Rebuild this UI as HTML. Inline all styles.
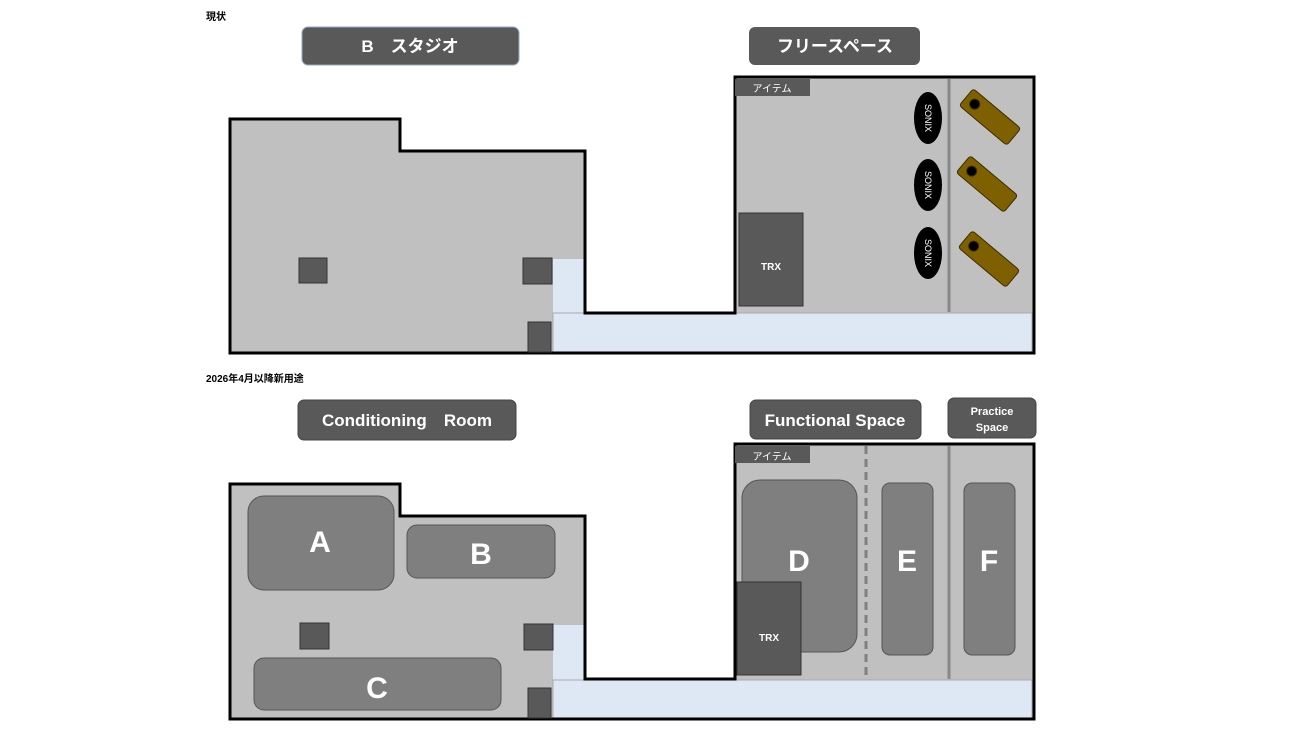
<!DOCTYPE html>
<html><head><meta charset="utf-8"><style>
html,body{margin:0;padding:0;background:#fff;}
svg{display:block;font-family:"Liberation Sans","Noto Sans CJK JP",sans-serif;}
</style></head><body>
<svg width="1300" height="731" viewBox="0 0 1300 731" xmlns="http://www.w3.org/2000/svg">
<!-- TOP -->
<text x="206" y="20" font-size="10" font-weight="bold" fill="#000">現状</text>
<rect x="302" y="27" width="217" height="38" rx="6" fill="#595959" stroke="#8faac8" stroke-width="1"/>
<text x="410" y="52" font-size="17" font-weight="bold" fill="#fff" text-anchor="middle">B　スタジオ</text>
<rect x="749" y="27" width="171" height="38" rx="6" fill="#595959"/>
<text x="835" y="52" font-size="17" font-weight="bold" fill="#fff" text-anchor="middle">フリースペース</text>

<path d="M230 119 H400 V151 H585 V313 H735 V77 H1034 V353 H230 Z" fill="#c0c0c0"/>
<rect x="553" y="259" width="32" height="94" fill="#dde8f4"/>
<rect x="553" y="313" width="479" height="40" fill="#dde8f4" stroke="#aaa" stroke-width="1"/>
<path d="M230 119 H400 V151 H585 V313 H735 V77 H1034 V353 H230 Z" fill="none" stroke="#000" stroke-width="3"/>
<line x1="949" y1="79" x2="949" y2="312" stroke="#888" stroke-width="3"/>
<rect x="299" y="258" width="28" height="25" fill="#595959" stroke="#333" stroke-width="1"/>
<rect x="523" y="258" width="29" height="26" fill="#595959" stroke="#333" stroke-width="1"/>
<rect x="528" y="322" width="23" height="30" fill="#595959" stroke="#333" stroke-width="1"/>
<rect x="735" y="79" width="75" height="17" fill="#595959"/>
<text x="772" y="92" font-size="10" fill="#fff" text-anchor="middle">アイテム</text>
<rect x="739" y="213" width="64" height="93" fill="#595959" stroke="#333" stroke-width="1"/>
<text x="771" y="270" font-size="10" font-weight="bold" fill="#fff" text-anchor="middle">TRX</text>
<g font-size="9" fill="#fff" text-anchor="middle">
<ellipse cx="928" cy="118" rx="14" ry="26" fill="#000"/>
<text transform="translate(928,118) rotate(90)" y="3">SONIX</text>
<ellipse cx="928" cy="185" rx="14" ry="26" fill="#000"/>
<text transform="translate(928,185) rotate(90)" y="3">SONIX</text>
<ellipse cx="928" cy="253" rx="14" ry="26" fill="#000"/>
<text transform="translate(928,253) rotate(90)" y="3">SONIX</text>
</g>
<g fill="#7f6000" stroke="#3a2c00" stroke-width="1">
<g transform="translate(990,117) rotate(40)"><rect x="-31" y="-11" width="62" height="22" rx="3"/><circle cx="-20" cy="0" r="5" fill="#000"/></g>
<g transform="translate(987,184) rotate(40)"><rect x="-31" y="-11" width="62" height="22" rx="3"/><circle cx="-20" cy="0" r="5" fill="#000"/></g>
<g transform="translate(989,259) rotate(40)"><rect x="-31" y="-11" width="62" height="22" rx="3"/><circle cx="-20" cy="0" r="5" fill="#000"/></g>
</g>

<!-- BOTTOM -->
<text x="206" y="382" font-size="10" font-weight="bold" fill="#000">2026年4月以降新用途</text>
<rect x="298" y="400" width="218" height="40" rx="6" fill="#595959" stroke="#444" stroke-width="1"/>
<text x="407" y="426" font-size="17" font-weight="bold" fill="#fff" text-anchor="middle">Conditioning　Room</text>
<rect x="750" y="400" width="171" height="39" rx="6" fill="#595959" stroke="#444" stroke-width="1"/>
<text x="835" y="426" font-size="17" font-weight="bold" fill="#fff" text-anchor="middle">Functional Space</text>
<rect x="948" y="398" width="88" height="40" rx="6" fill="#595959" stroke="#444" stroke-width="1"/>
<text x="992" y="415" font-size="11" font-weight="bold" fill="#fff" text-anchor="middle">Practice</text>
<text x="992" y="431" font-size="11" font-weight="bold" fill="#fff" text-anchor="middle">Space</text>

<path d="M230 484 H400 V516 H585 V679 H735 V444 H1034 V719 H230 Z" fill="#c0c0c0"/>
<rect x="553" y="625" width="32" height="94" fill="#dde8f4"/>
<rect x="553" y="680" width="479" height="39" fill="#dde8f4" stroke="#aaa" stroke-width="1"/>
<path d="M230 484 H400 V516 H585 V679 H735 V444 H1034 V719 H230 Z" fill="none" stroke="#000" stroke-width="3"/>
<line x1="866" y1="446" x2="866" y2="679" stroke="#808080" stroke-width="3" stroke-dasharray="8,5"/>
<line x1="949" y1="446" x2="949" y2="679" stroke="#888" stroke-width="3"/>
<g fill="#7f7f7f" stroke="#555" stroke-width="1">
<rect x="248" y="496" width="146" height="94" rx="16"/>
<rect x="407" y="525" width="148" height="53" rx="10"/>
<rect x="254" y="658" width="247" height="52" rx="10"/>
<rect x="742" y="480" width="115" height="172" rx="18"/>
<rect x="882" y="483" width="51" height="172" rx="8"/>
<rect x="964" y="483" width="51" height="172" rx="8"/>
</g>
<rect x="300" y="623" width="29" height="26" fill="#595959" stroke="#333" stroke-width="1"/>
<rect x="524" y="624" width="29" height="26" fill="#595959" stroke="#333" stroke-width="1"/>
<rect x="528" y="688" width="23" height="30" fill="#595959" stroke="#333" stroke-width="1"/>
<rect x="735" y="446" width="75" height="17" fill="#595959"/>
<text x="772" y="460" font-size="10" fill="#fff" text-anchor="middle">アイテム</text>
<rect x="737" y="582" width="64" height="93" fill="#595959" stroke="#333" stroke-width="1"/>
<text x="769" y="641" font-size="10" font-weight="bold" fill="#fff" text-anchor="middle">TRX</text>
<g font-size="30" font-weight="bold" fill="#fff" text-anchor="middle">
<text x="320" y="552">A</text>
<text x="481" y="564">B</text>
<text x="377" y="698">C</text>
<text x="799" y="571">D</text>
<text x="907" y="571">E</text>
<text x="989" y="571">F</text>
</g>
</svg>
</body></html>
